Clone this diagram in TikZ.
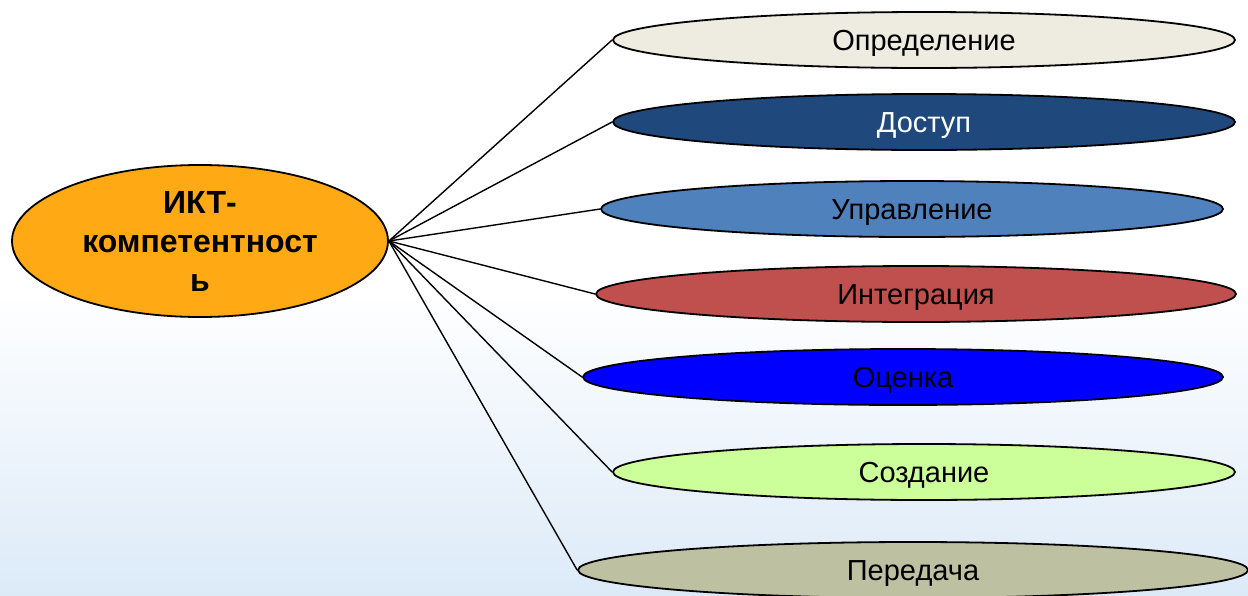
\documentclass[tikz,border=0pt]{standalone}
\usepackage{fontspec}
\setmainfont{Liberation Sans}
\usetikzlibrary{shapes.geometric}
\definecolor{ictorange}{HTML}{FFAA14}
\definecolor{defgray}{HTML}{EEECE1}
\definecolor{accessblue}{HTML}{1F497D}
\definecolor{managblue}{HTML}{4F81BD}
\definecolor{integred}{HTML}{C0504D}
\definecolor{evalblue}{HTML}{0000FF}
\definecolor{creatgreen}{HTML}{CCFF99}
\definecolor{transolive}{HTML}{BEC1A1}
\definecolor{bgblue}{HTML}{DCEAF8}
\tikzstyle{skill}=[ellipse, draw, line width=0.9pt, inner sep=0pt, minimum height=28pt, text height=10.4pt, text depth=0pt, font=\fontsize{14.5}{17}\selectfont]
\tikzstyle{core}=[ellipse, draw, line width=0.9pt, fill=ictorange, minimum width=188pt, minimum height=76pt, inner sep=0pt, align=center, font=\fontsize{16}{19.5}\selectfont\bfseries]
\tikzstyle{connect}=[line width=0.7pt]

\begin{document}
\begin{tikzpicture}[x=0.5pt, y=-0.5pt]
    \useasboundingbox (0,0) rectangle (1248,595);

    % background
    \shade[top color=white, bottom color=bgblue] (0,290) rectangle (1248,595);

    % central node
    \node[core] (ict) at (200,241) {ИКТ-\\компетентност\\ь};

    % outer ellipses
    \node[skill, fill=defgray, minimum width=311pt] (def) at (924,40) {Определение};
    \node[skill, fill=accessblue, text=white, minimum width=311pt] (acc) at (924,122) {Доступ};
    \node[skill, fill=managblue, minimum width=311pt] (man) at (912,209) {Управление};
    \node[skill, fill=integred, minimum width=320pt] (integ) at (916,294) {Интеграция};
    \node[skill, fill=evalblue, minimum width=320pt] (eval) at (903,377) {Оценка};
    \node[skill, fill=creatgreen, minimum width=311pt] (cre) at (924,472) {Создание};
    \node[skill, fill=transolive, minimum width=335pt] (trans) at (913,570) {Передача};

    % Connect the nodes
    \path
        (ict.east) edge [connect] (def.west)
        (ict.east) edge [connect] (acc.west)
        (ict.east) edge [connect] (man.west)
        (ict.east) edge [connect] (integ.west)
        (ict.east) edge [connect] (eval.west)
        (ict.east) edge [connect] (cre.west)
        (ict.east) edge [connect] (trans.west)
        ;
\end{tikzpicture}
\end{document}
